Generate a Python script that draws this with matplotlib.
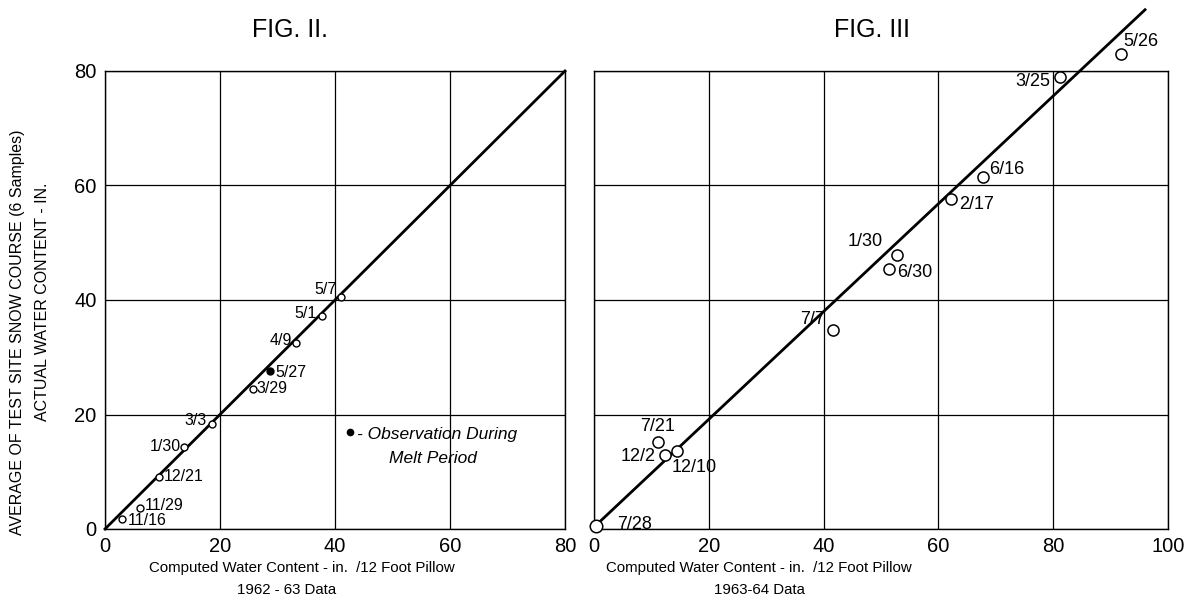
import matplotlib
matplotlib.use("Agg")
import matplotlib.pyplot as plt

# ---- data ----
fig2_labels = ["11/16", "11/29", "12/21", "1/30", "3/3", "3/29", "5/27", "4/9", "5/1", "5/7"]
fig2_x = [2.9, 6.1, 9.4, 13.8, 18.6, 25.8, 28.7, 33.2, 37.7, 41.0]
fig2_y = [1.7, 3.7, 9.1, 14.3, 18.4, 24.5, 27.6, 32.5, 37.2, 40.6]
fig2_melt = [False, False, False, False, False, False, True, False, False, False]
fig2_line_x = [0, 80]
fig2_line_y = [0, 80]

fig3_labels = ["7/28", "7/21", "12/2", "12/10", "7/7", "1/30", "6/30", "2/17", "6/16", "3/25", "5/26"]
fig3_x = [0.3, 11.1, 12.4, 14.4, 41.6, 52.8, 51.4, 62.2, 67.8, 81.2, 91.8]
fig3_y = [0.5, 15.2, 12.9, 13.6, 34.8, 47.9, 45.4, 57.7, 61.5, 79.0, 82.9]
fig3_line_x = [0.5, 96]
fig3_line_y = [0.8, 90.7]

left_ticks = [0, 20, 40, 60, 80]
right_xticks = [0, 20, 40, 60, 80, 100]
yticks = [0, 20, 40, 60, 80]

# ---- label placement (styling) ----
fig2_off = [(6, -1, 'left'), (5, 2, 'left'), (5, 0, 'left'), (-3, 1, 'right'), (-5, 3, 'right'),
            (3, 0, 'left'), (5, -2, 'left'), (-4, 2, 'right'), (-5, 3, 'right'), (-4, 7, 'right')]
fig3_off = [(21, 2, 'left'), (0, 15, 'center'), (-10, -1, 'right'), (18, -16, 'center'),
            (-8, 10, 'right'), (-14, 13, 'right'), (8, -3, 'left'), (8, -6, 'left'),
            (6, 7, 'left'), (-10, -5, 'right'), (2, 13, 'left')]

plt.rcParams['font.family'] = ['Liberation Sans', 'DejaVu Sans']

W, H = 1188, 607
fig = plt.figure(figsize=(W / 100, H / 100), dpi=100)

def px_rect(x0, x1, y_top, y_bot):
    return [x0 / W, 1 - y_bot / H, (x1 - x0) / W, (y_bot - y_top) / H]

ax1 = fig.add_axes(px_rect(105, 565, 71, 529))
ax2 = fig.add_axes(px_rect(594, 1168, 71, 529))

for ax in (ax1, ax2):
    ax.set_ylim(0, 80)
    ax.set_yticks(yticks)
    ax.grid(True, color='black', linewidth=0.9)
    ax.set_axisbelow(True)
    for s in ax.spines.values():
        s.set_linewidth(1.0)
        s.set_color('black')
    ax.tick_params(length=0, labelsize=14.5, pad=6)

ax1.set_xlim(0, 80)
ax1.set_xticks(left_ticks)
ax2.set_xlim(0, 100)
ax2.set_xticks(right_xticks)
ax2.tick_params(labelleft=False)

# Fig II
ax1.plot(fig2_line_x, fig2_line_y, color='black', linewidth=2.0, clip_on=False, zorder=3)
for x, y, m in zip(fig2_x, fig2_y, fig2_melt):
    ax1.plot([x], [y], marker='o', markersize=5, markeredgewidth=1.0,
             markeredgecolor='black', markerfacecolor=('black' if m else 'white'),
             linestyle='none', zorder=4, clip_on=False)
for lab, x, y, (dx, dy, ha) in zip(fig2_labels, fig2_x, fig2_y, fig2_off):
    ax1.annotate(lab, (x, y), xytext=(dx * 0.72, dy * 0.72), textcoords='offset points',
                 ha=ha, va='center', fontsize=11.5)

# legend marker
ax1.plot([42.6], [17.0], marker='o', markersize=4.5, color='black', linestyle='none')
ax1.annotate("- Observation During", (42.6, 17.0), xytext=(5, -2),
             textcoords='offset points', ha='left', va='center', fontsize=12.5, style='italic')
ax1.annotate("Melt Period", (42.6, 17.0), xytext=(60, -19),
             textcoords='offset points', ha='center', va='center', fontsize=12.5, style='italic')

# Fig III
ax2.plot(fig3_line_x, fig3_line_y, color='black', linewidth=2.0, clip_on=False, zorder=3)
ax2.plot(fig3_x[:1], fig3_y[:1], marker='o', markersize=9, markeredgewidth=1.1,
         markeredgecolor='black', markerfacecolor='white', linestyle='none', zorder=4, clip_on=False)
ax2.plot(fig3_x[1:], fig3_y[1:], marker='o', markersize=8, markeredgewidth=1.1,
         markeredgecolor='black', markerfacecolor='white', linestyle='none', zorder=4, clip_on=False)
for lab, x, y, (dx, dy, ha) in zip(fig3_labels, fig3_x, fig3_y, fig3_off):
    ax2.annotate(lab, (x, y), xytext=(dx * 0.72, dy * 0.72), textcoords='offset points',
                 ha=ha, va='center', fontsize=13, annotation_clip=False)

def ftext(xp, yp, s, **kw):
    fig.text(xp / W, 1 - yp / H, s, **kw)

ftext(290, 30, "FIG. II.", ha='center', va='center', fontsize=18)
ftext(872, 30, "FIG. III", ha='center', va='center', fontsize=18)

ftext(302, 568, "Computed Water Content - in.  /12 Foot Pillow", ha='center', va='center', fontsize=10.8)
ftext(287, 590, "1962 - 63 Data", ha='center', va='center', fontsize=10.8)
ftext(759, 568, "Computed Water Content - in.  /12 Foot Pillow", ha='center', va='center', fontsize=10.8)
ftext(759, 590, "1963-64 Data", ha='center', va='center', fontsize=10.8)

ftext(18, 332, "AVERAGE OF TEST SITE SNOW COURSE (6 Samples)", ha='center', va='center',
      rotation=90, fontsize=11.5)
ftext(43, 302, "ACTUAL WATER CONTENT - IN.", ha='center', va='center', rotation=90, fontsize=11.5)

fig.savefig("out.png", dpi=100)
